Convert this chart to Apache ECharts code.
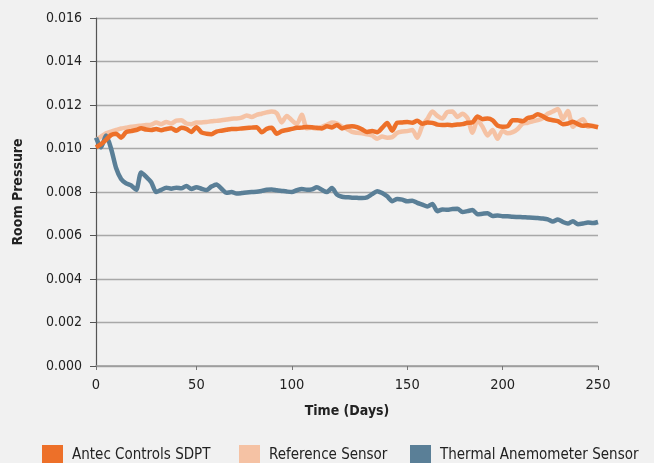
<!DOCTYPE html>
<html>
<head>
<meta charset="utf-8">
<script src="https://cdn.jsdelivr.net/npm/echarts@6/dist/echarts.min.js"></script>
<style>
html,body{margin:0;padding:0;background:#f1f1f1;}
#chart{width:654px;height:463px;}
</style>
</head>
<body>
<div id="chart"></div>
<script>
// Sample positions along the time axis (101 samples), tick labels at given samples
const tickLabels = ['0', '50', '100', '150', '200', '250'];
const tickSamples = [0, 20, 39, 62, 81, 100];
const seriesNames = ['Antec Controls SDPT', 'Reference Sensor', 'Thermal Anemometer Sensor'];

// values in units of 0.001
const antec = [10.05,10.2,10.4,10.62,10.68,10.5,10.75,10.8,10.85,10.93,
  10.87,10.85,10.9,10.84,10.9,10.93,10.82,10.95,10.9,10.76,
  10.98,10.74,10.68,10.66,10.78,10.82,10.86,10.9,10.9,10.92,
  10.94,10.96,10.98,10.75,10.9,10.95,10.68,10.8,10.85,10.9,
  10.95,10.96,10.99,10.98,10.95,10.92,11.02,10.97,11.08,10.92,
  11.0,11.02,10.98,10.88,10.76,10.8,10.75,10.95,11.17,10.82,
  11.18,11.2,11.22,11.18,11.28,11.14,11.2,11.18,11.1,11.08,
  11.09,11.07,11.1,11.12,11.18,11.2,11.47,11.35,11.38,11.3,
  11.05,11.0,11.02,11.3,11.3,11.25,11.4,11.45,11.58,11.48,
  11.35,11.3,11.26,11.12,11.15,11.23,11.12,11.05,11.07,11.03,
  10.98];
const reference = [10.4,10.55,10.7,10.78,10.85,10.92,10.96,11.0,11.02,11.05,
  11.08,11.1,11.19,11.12,11.22,11.15,11.28,11.3,11.15,11.12,
  11.2,11.2,11.22,11.25,11.27,11.3,11.33,11.37,11.38,11.42,
  11.52,11.45,11.55,11.6,11.66,11.7,11.62,11.2,11.5,11.3,
  11.12,11.55,10.93,10.95,10.92,11.0,11.09,11.2,11.15,11.0,
  10.9,10.76,10.72,10.7,10.65,10.6,10.45,10.55,10.5,10.52,
  10.72,10.78,10.8,10.85,10.5,11.05,11.35,11.7,11.5,11.38,
  11.68,11.7,11.45,11.6,11.4,10.72,11.3,11.0,10.6,10.85,
  10.45,10.82,10.7,10.75,10.9,11.15,11.18,11.25,11.3,11.4,
  11.6,11.7,11.82,11.35,11.72,11.0,11.2,11.35,11.0,11.05,
  10.98];
const thermal = [10.5,10.05,10.6,10.0,9.1,8.6,8.4,8.3,8.1,8.9,
  8.7,8.45,8.0,8.1,8.2,8.15,8.2,8.17,8.28,8.14,
  8.22,8.15,8.09,8.25,8.35,8.15,7.96,8.0,7.93,7.95,
  7.98,8.0,8.01,8.05,8.1,8.12,8.08,8.05,8.02,8.0,
  8.08,8.14,8.1,8.12,8.22,8.1,8.0,8.18,7.88,7.78,
  7.76,7.74,7.73,7.72,7.75,7.9,8.04,7.95,7.8,7.58,
  7.68,7.65,7.57,7.6,7.5,7.42,7.33,7.45,7.12,7.2,
  7.18,7.22,7.23,7.08,7.12,7.17,6.98,7.0,7.02,6.9,
  6.92,6.89,6.88,6.86,6.85,6.84,6.83,6.82,6.8,6.78,
  6.74,6.64,6.74,6.62,6.55,6.66,6.52,6.55,6.6,6.57,
  6.62];

const categories = antec.map((_, i) => String(i));
const scale = v => +(v / 1000).toFixed(5);

const FONT = '"DejaVu Sans Condensed", "Liberation Sans Narrow", sans-serif';
const colors = ['#ED7029', '#F5C2A4', '#5A7F97'];
const isTick = (idx) => tickSamples.indexOf(idx) >= 0;

const chart = echarts.init(document.getElementById('chart'));
const legendLefts = [42, 239, 410];
chart.setOption({
  backgroundColor: '#f1f1f1',
  animation: false,
  color: colors,
  grid: { left: 96, right: 56, top: 18, bottom: 97, containLabel: false, outerBoundsMode: 'none' },
  legend: seriesNames.map((n, k) => ({
    data: [n], left: legendLefts[k], top: 445, itemWidth: 21, itemHeight: 21, itemGap: 0, padding: 0,
    icon: 'rect', selectedMode: false,
    textStyle: { fontFamily: FONT, fontSize: 15, color: '#222', padding: [0, 0, 0, 4] }
  })),
  xAxis: {
    type: 'category', data: categories, boundaryGap: false,
    name: 'Time (Days)', nameLocation: 'middle', nameGap: 38,
    nameTextStyle: { fontFamily: FONT, fontSize: 14, fontWeight: 'bold', color: '#222' },
    axisLine: { lineStyle: { color: '#9a9a9a', width: 1.5 } },
    axisTick: { interval: isTick, length: 4, lineStyle: { color: '#777' } },
    axisLabel: {
      interval: isTick, margin: 12,
      formatter: (v, idx) => { const k = tickSamples.indexOf(idx); return k >= 0 ? tickLabels[k] : ''; },
      fontFamily: FONT, fontSize: 14.5, color: '#222'
    },
    splitLine: { show: false }
  },
  yAxis: {
    type: 'value', min: 0, max: 0.016, interval: 0.002,
    name: 'Room Pressure', nameLocation: 'middle', nameGap: 71,
    nameTextStyle: { fontFamily: FONT, fontSize: 14, fontWeight: 'bold', color: '#222' },
    axisLine: { show: true, lineStyle: { color: '#555', width: 1.2 } },
    axisTick: { show: true, length: 6, lineStyle: { color: '#555' } },
    axisLabel: { formatter: v => v.toFixed(3), margin: 14, fontFamily: FONT, fontSize: 14, color: '#222' },
    splitLine: { lineStyle: { color: '#a8a8a8', width: 1.3 } }
  },
  series: [
    { name: seriesNames[1], type: 'line', data: reference.map(scale), showSymbol: false, smooth: 0.25,
      lineStyle: { width: 4.5, color: colors[1] }, itemStyle: { color: colors[1] }, z: 2 },
    { name: seriesNames[2], type: 'line', data: thermal.map(scale), showSymbol: false, smooth: 0.25,
      lineStyle: { width: 4.5, color: colors[2] }, itemStyle: { color: colors[2] }, z: 3 },
    { name: seriesNames[0], type: 'line', data: antec.map(scale), showSymbol: false, smooth: 0.25,
      lineStyle: { width: 4.5, color: colors[0] }, itemStyle: { color: colors[0] }, z: 4 }
  ]
});
</script>
</body>
</html>
